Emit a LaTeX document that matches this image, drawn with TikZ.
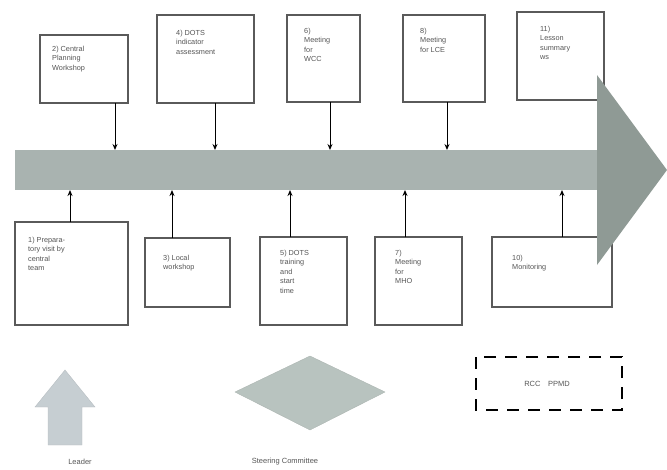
\documentclass[tikz,border=0pt]{standalone}
\usepackage{fontspec}
\setmainfont{Liberation Sans}
\usetikzlibrary{arrows.meta}
\definecolor{shaftc}{HTML}{A9B3B0}
\definecolor{headc}{HTML}{8F9A95}
\definecolor{boxc}{HTML}{5A5A5A}
\definecolor{txtc}{HTML}{555555}
\definecolor{leadc}{HTML}{C6CED2}
\definecolor{diac}{HTML}{B8C3BF}
\tikzset{
  stepbox/.style={draw=boxc, line width=1.3pt, fill=white},
  lbl/.style={anchor=north west, align=left, text=txtc, font=\fontsize{7.3}{9.5}\selectfont, inner sep=0pt},
  legl/.style={text=txtc, font=\fontsize{7.5}{9}\selectfont},
  conn/.style={-{Stealth[length=6pt,width=5pt]}, line width=1pt, black},
}
\begin{document}
\begin{tikzpicture}[x=1pt,y=-1pt]
\useasboundingbox (0,0) rectangle (667,469);
% big timeline shaft
\fill[shaftc] (15,150) rectangle (600,190);
% top boxes
\draw[stepbox] (40,35) rectangle (128,103);
\node[lbl] (t1) at (52,46) {2) Central\\Planning\\Workshop};
\draw[stepbox] (157,15) rectangle (254,103);
\node[lbl] (t2) at (176,30) {4) DOTS\\indicator\\assessment};
\draw[stepbox] (287,15) rectangle (360,102);
\node[lbl] (t3) at (304,28) {6)\\Meeting\\for\\WCC};
\draw[stepbox] (403,15) rectangle (485,102);
\node[lbl] (t4) at (420,28) {8)\\Meeting\\for LCE};
\draw[stepbox] (517,12) rectangle (604,100);
\node[lbl] (t5) at (540,26) {11)\\Lesson\\summary\\ws};
% bottom boxes
\draw[stepbox] (15,222) rectangle (128,325);
\node[lbl] (u1) at (28,237) {1) Prepara-\\tory visit by\\central\\team};
\draw[stepbox] (145,238) rectangle (230,307);
\node[lbl] (u2) at (163,255) {3) Local\\workshop};
\draw[stepbox] (260,237) rectangle (347,325);
\node[lbl] (u3) at (280,250) {5) DOTS\\training\\and\\start\\time};
\draw[stepbox] (375,237) rectangle (462,325);
\node[lbl] (u4) at (395,250) {7)\\Meeting\\for\\MHO};
\draw[stepbox] (492,237) rectangle (612,307);
\node[lbl] (u5) at (512,255) {10)\\Monitoring};
% arrowhead drawn over box corners
\fill[headc] (597,75) -- (667,170) -- (597,265) -- cycle;
% top arrows
\coordinate (a1) at (115,103); \coordinate (b1) at (115,150);
\coordinate (a2) at (215,103); \coordinate (b2) at (215,150);
\coordinate (a3) at (330,102); \coordinate (b3) at (330,150);
\coordinate (a4) at (447,102); \coordinate (b4) at (447,150);
\draw[conn] (a1) -- (b1);
\draw[conn] (a2) -- (b2);
\draw[conn] (a3) -- (b3);
\draw[conn] (a4) -- (b4);
% bottom arrows
\coordinate (c1) at (70,222); \coordinate (d1) at (70,190);
\coordinate (c2) at (172,238); \coordinate (d2) at (172,190);
\coordinate (c3) at (290,237); \coordinate (d3) at (290,190);
\coordinate (c4) at (405,237); \coordinate (d4) at (405,190);
\coordinate (c5) at (562,237); \coordinate (d5) at (562,190);
\draw[conn] (c1) -- (d1);
\draw[conn] (c2) -- (d2);
\draw[conn] (c3) -- (d3);
\draw[conn] (c4) -- (d4);
\draw[conn] (c5) -- (d5);
% legend
\draw[leadc!80!gray, fill=leadc] (65,370) -- (95,407) -- (82,407) -- (82,445) -- (48,445) -- (48,407) -- (35,407) -- cycle;
\node[legl] (leg1) at (80,462) {Leader};
\draw[diac!80!gray, fill=diac] (235,392) -- (310,356) -- (385,392) -- (310,430) -- cycle;
\node[legl] (leg2) at (285,462) {Steering Committee};
\draw[black, line width=2.2pt, dash pattern=on 12pt off 9pt] (476,357) rectangle (622,410);
\node[legl] (leg3) at (547,384) {RCC\quad PPMD};
\end{tikzpicture}
\end{document}
